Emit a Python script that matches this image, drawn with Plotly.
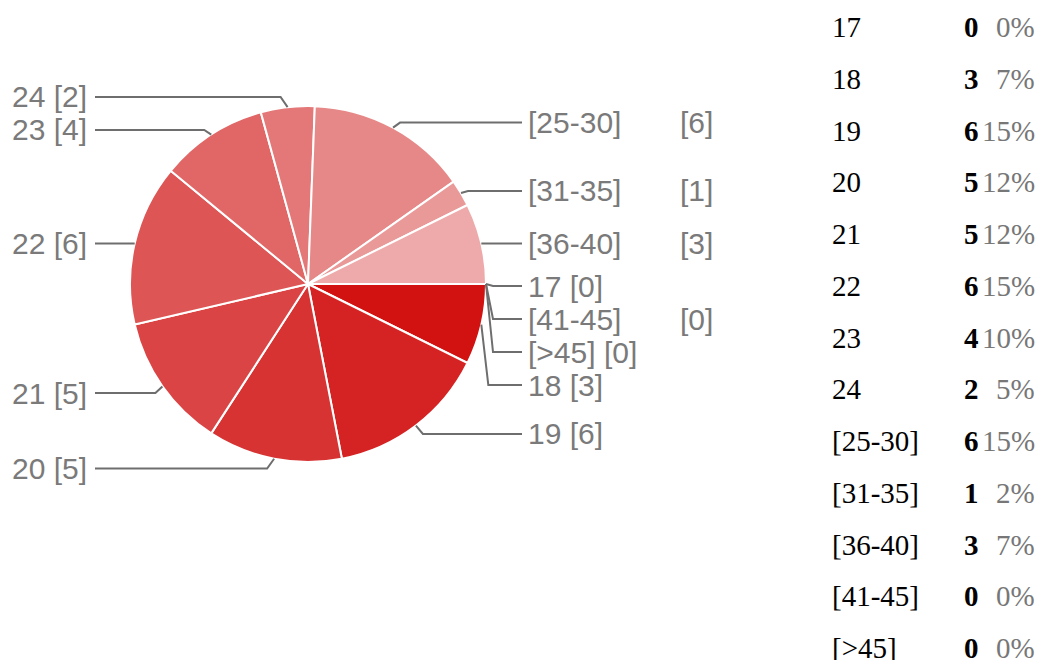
import math
import plotly.graph_objects as go

# ---- data ----
categories = ["17", "18", "19", "20", "21", "22", "23", "24",
              "[25-30]", "[31-35]", "[36-40]", "[41-45]", "[>45]"]
counts = [0, 3, 6, 5, 5, 6, 4, 2, 6, 1, 3, 0, 0]
colors = ["#cf0000", "#d21111", "#d52222", "#d83333", "#db4444", "#de5555",
          "#e16666", "#e47777", "#e78888", "#ea9999", "#eeaaaa", "#f1bbbb", "#f4cccc"]
split_labels = {"[25-30]", "[31-35]", "[36-40]", "[41-45]"}

# ---- layout constants ----
W, H = 1039, 660
CX, CY, R = 308, 284, 178
R_LAB = 186
Y_SHIFT = 2
GAP = 33
LINE_COLOR = "#6e6e6e"
TEXT_COLOR = "#7a7a7a"
LAB_FONT = dict(family="Liberation Sans, Arial", size=30, color=TEXT_COLOR)


def px(x):
    return x / W


def py(y):
    return 1 - y / H


fig = go.Figure()
fig.add_trace(go.Pie(
    labels=categories, values=counts, sort=False, direction="clockwise",
    rotation=90, textinfo="none", hoverinfo="label+value",
    marker=dict(colors=colors, line=dict(color="white", width=2)),
    domain=dict(x=[px(CX - R), px(CX + R)], y=[py(CY + R), py(CY - R)]),
    showlegend=False,
))

total = sum(counts)
cum = 0
items = []
for i, (c, v) in enumerate(zip(categories, counts)):
    mid = (cum + v / 2) / total * 2 * math.pi
    cum += v
    x0 = CX + R * math.cos(mid)
    y0 = CY + R * math.sin(mid)
    side = "right" if math.cos(mid) >= -1e-9 else "left"
    ny = round(CY + R_LAB * math.sin(mid) + Y_SHIFT, 3)
    items.append(dict(i=i, cat=c, val=v, x0=x0, y0=y0, side=side, ny=ny))

right = sorted([it for it in items if it["side"] == "right"], key=lambda d: (d["ny"], d["i"]))
left = sorted([it for it in items if it["side"] == "left"], key=lambda d: (-d["ny"], d["i"]))

prev = None
for it in right:
    y = it["ny"] if prev is None else max(it["ny"], prev + GAP)
    it["ly"] = y
    prev = y
prev = None
for it in left:
    y = it["ny"] if prev is None else min(it["ny"], prev - GAP)
    it["ly"] = y
    prev = y

annotations = []
shapes = []
for it in items:
    ly = it["ly"]
    if it["side"] == "right":
        ex = it["x0"] + 7
        endx = 522
        path = f"M{px(it['x0'])},{py(it['y0'])} L{px(ex)},{py(ly)} L{px(endx)},{py(ly)}"
        if it["cat"] in split_labels:
            annotations.append(dict(x=px(526), y=py(ly), text=it["cat"], xanchor="left",
                                    yanchor="middle", showarrow=False, font=LAB_FONT))
            annotations.append(dict(x=px(678), y=py(ly), text=f"[{it['val']}]", xanchor="left",
                                    yanchor="middle", showarrow=False, font=LAB_FONT))
        else:
            annotations.append(dict(x=px(526), y=py(ly), text=f"{it['cat']} [{it['val']}]",
                                    xanchor="left", yanchor="middle", showarrow=False, font=LAB_FONT))
    else:
        ex = it["x0"] - 7
        endx = 95
        path = f"M{px(it['x0'])},{py(it['y0'])} L{px(ex)},{py(ly)} L{px(endx)},{py(ly)}"
        annotations.append(dict(x=px(89), y=py(ly), text=f"{it['cat']} [{it['val']}]",
                                xanchor="right", yanchor="middle", showarrow=False, font=LAB_FONT))
    shapes.append(dict(type="path", xref="paper", yref="paper", path=path,
                       line=dict(color=LINE_COLOR, width=2)))

# ---- summary table ----
ROW0, ROWSTEP = 27, 51.75
TFONT = "Liberation Serif, Times New Roman"
TSIZE = 29
for k, (c, v) in enumerate(zip(categories, counts)):
    y = ROW0 + k * ROWSTEP
    pct = round(v / total * 100)
    annotations.append(dict(x=px(830), y=py(y), text=c, xanchor="left", yanchor="middle",
                            showarrow=False, font=dict(family=TFONT, size=TSIZE, color="#000000")))
    annotations.append(dict(x=px(981), y=py(y), text=f"<b>{v}</b>", xanchor="right", yanchor="middle",
                            showarrow=False, font=dict(family=TFONT, size=TSIZE, color="#000000")))
    annotations.append(dict(x=px(1037), y=py(y), text=f"{pct}%", xanchor="right", yanchor="middle",
                            showarrow=False, font=dict(family=TFONT, size=TSIZE, color="#777777")))

fig.update_layout(
    width=W, height=H, margin=dict(l=0, r=0, t=0, b=0),
    paper_bgcolor="white", plot_bgcolor="white",
    annotations=annotations, shapes=shapes,
)
fig.write_html("out.html", config={"displayModeBar": False},
               post_script="document.body.style.margin='0px';")
